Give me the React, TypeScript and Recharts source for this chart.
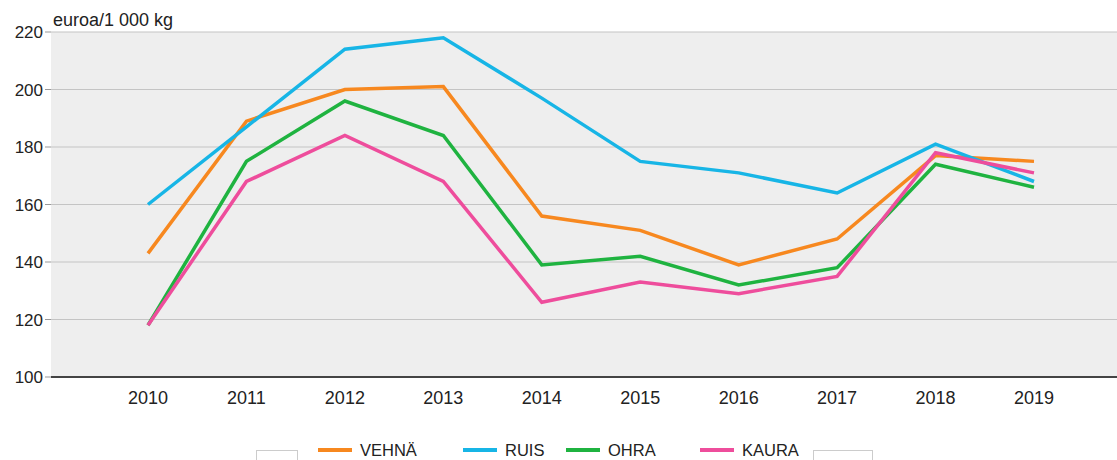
import React from 'react';
import { LineChart, Line, XAxis, YAxis, CartesianGrid, Legend } from 'recharts';

const years = ['2010', '2011', '2012', '2013', '2014', '2015', '2016', '2017', '2018', '2019'];
const vehna = [143, 189, 200, 201, 156, 151, 139, 148, 177, 175];
const ruis = [160, 187, 214, 218, 197, 175, 171, 164, 181, 168];
const ohra = [118, 175, 196, 184, 139, 142, 132, 138, 174, 166];
const kaura = [118, 168, 184, 168, 126, 133, 129, 135, 178, 171];
const yTicks = [100, 120, 140, 160, 180, 200, 220];

const series = [
  { key: 'VEHNÄ', values: vehna, color: '#f7881f' },
  { key: 'RUIS', values: ruis, color: '#17b5e6' },
  { key: 'OHRA', values: ohra, color: '#1fb340' },
  { key: 'KAURA', values: kaura, color: '#ee4d9c' },
];

const data = years.map((y, i) => {
  const row: any = { year: y };
  series.forEach((s) => {
    row[s.key] = s.values[i];
  });
  return row;
});

const FONT = 'Arial, "Liberation Sans", sans-serif';
const legendLeft = [318, 463, 566, 700];

const LegendContent = () => (
  <div style={{ position: 'relative', width: 1117, height: 30, fontFamily: FONT }}>
    <div style={{ position: 'absolute', left: 256, top: 12, width: 42, height: 30, border: '1px solid #cccccc', background: '#fff', boxSizing: 'border-box' }} />
    <div style={{ position: 'absolute', left: 813, top: 12, width: 60, height: 30, border: '1px solid #cccccc', background: '#fff', boxSizing: 'border-box' }} />
    {series.map((s, i) => (
      <div key={s.key} style={{ position: 'absolute', left: legendLeft[i], top: 3, display: 'flex', alignItems: 'center', height: 18 }}>
        <div style={{ width: 34, height: 4, background: s.color, marginRight: 8 }} />
        <span style={{ fontSize: 16.5, color: '#222', lineHeight: '18px' }}>{s.key}</span>
      </div>
    ))}
  </div>
);

export default function App() {
  return (
    <div style={{ position: 'absolute', left: 0, top: 0, background: '#fff' }}>
      <LineChart width={1117} height={460} data={data} margin={{ top: 32, right: 0, bottom: 23, left: 0 }}>
        <CartesianGrid vertical={false} stroke="#c4c4c4" fill="#eeeeee" strokeWidth={1.2} />
        <XAxis
          dataKey="year"
          padding={{ left: 97, right: 83 }}
          axisLine={{ stroke: '#444', strokeWidth: 2 }}
          tickLine={false}
          tick={{ fontSize: 18, fill: '#222', fontFamily: FONT }}
          tickMargin={8}
          height={30}
        />
        <YAxis
          domain={[100, 220]}
          ticks={yTicks}
          width={51}
          axisLine={false}
          tickSize={6}
          tickLine={{ stroke: '#999' }}
          tick={{ fontSize: 17, fill: '#222', fontFamily: FONT }}
          tickMargin={2}
          label={(props: any) => {
            const vb = props.viewBox || { x: 0, y: 32, width: 51 };
            return (
              <text x={vb.x + vb.width + 2} y={vb.y - 6} fontSize={18} fill="#222" fontFamily={FONT}>
                euroa/1 000 kg
              </text>
            );
          }}
        />
        {series.map((s) => (
          <Line
            key={s.key}
            dataKey={s.key}
            stroke={s.color}
            strokeWidth={3.5}
            dot={false}
            activeDot={false}
            type="linear"
            isAnimationActive={false}
          />
        ))}
        <Legend
          verticalAlign="bottom"
          content={LegendContent}
          wrapperStyle={{ position: 'absolute', left: 0, top: 438, width: 1117, height: 30 }}
        />
      </LineChart>
    </div>
  );
}
